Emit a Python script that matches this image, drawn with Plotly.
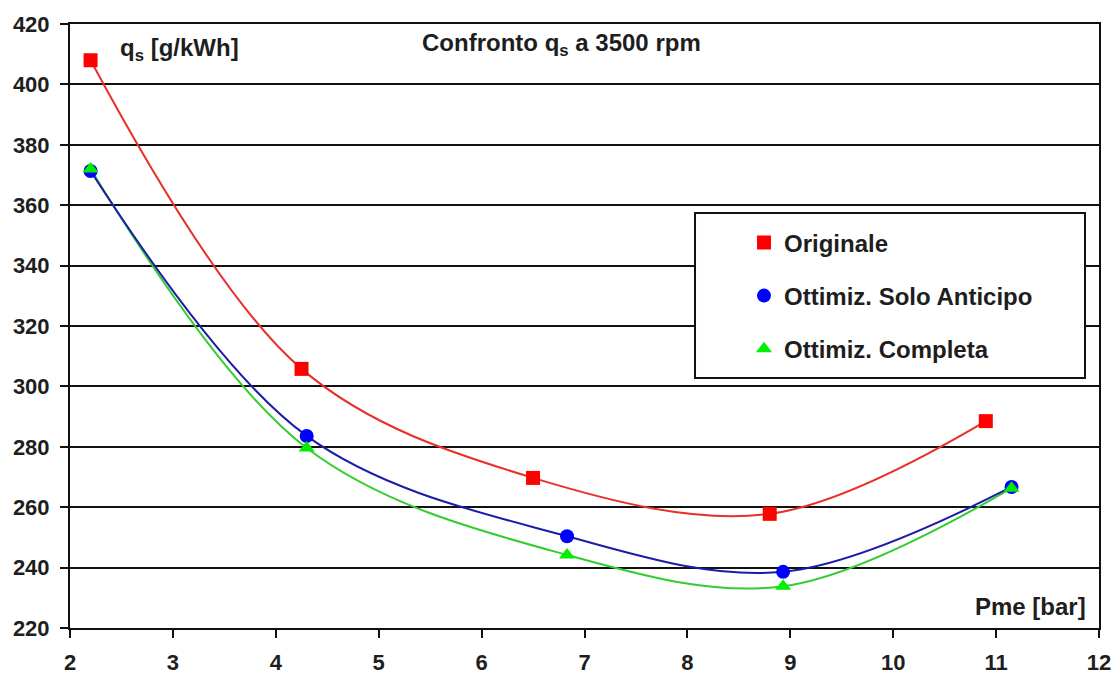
import plotly.graph_objects as go

# Specific consumption q_s [g/kWh] vs mean effective pressure Pme [bar] at 3500 rpm
pme_originale = [2.2, 4.25, 6.5, 8.8, 10.9]
qs_originale = [408, 305.8, 269.7, 257.8, 288.5]

pme_anticipo = [2.2, 4.3, 6.83, 8.93, 11.15]
qs_anticipo = [371.3, 283.6, 250.4, 238.6, 266.7]

pme_completa = [2.2, 4.3, 6.83, 8.93, 11.15]
qs_completa = [372.0, 279.6, 244.2, 233.8, 266.3]

x_ticks = [2, 3, 4, 5, 6, 7, 8, 9, 10, 11, 12]
y_ticks = [220, 240, 260, 280, 300, 320, 340, 360, 380, 400, 420]

FONT = "Liberation Sans, Arial, sans-serif"
TXT = "#1e1e1e"

series = [
    ("Originale", pme_originale, qs_originale, "#ff0000", "#e8302a", "square", 14),
    ("Ottimiz. Solo Anticipo", pme_anticipo, qs_anticipo, "#0000ff", "#1c1ca8", "circle", 14),
    ("Ottimiz. Completa", pme_completa, qs_completa, "#00ee00", "#33cc33", "triangle-up", 14),
]

fig = go.Figure()

# smoothed curves (green under blue)
for idx in (0, 2, 1):
    name, x, y, mcol, lcol, sym, size = series[idx]
    fig.add_trace(go.Scatter(
        x=x, y=y, mode="lines", showlegend=False, hoverinfo="skip",
        line=dict(color=lcol, width=2, shape="spline", smoothing=1.0),
    ))

# measured points
for name, x, y, mcol, lcol, sym, size in series:
    fig.add_trace(go.Scatter(
        x=x, y=y, mode="markers", name=name, legendgroup=name,
        marker=dict(color=mcol, symbol=sym, size=size, line=dict(width=0)),
    ))

fig.update_layout(
    width=1118, height=678,
    margin=dict(l=70, r=19, t=24, b=50, autoexpand=False),
    paper_bgcolor="white", plot_bgcolor="white",
    font=dict(family=FONT, size=24, color=TXT),
    showlegend=True,
    legend=dict(
        x=0.655, y=0.675, xanchor="left", yanchor="top",
        bgcolor="rgba(0,0,0,0)", borderwidth=0,
        font=dict(family=FONT, size=24, color=TXT, weight="bold"),
        tracegroupgap=19, itemsizing="trace",
    ),
    shapes=[dict(
        type="rect", xref="paper", yref="paper",
        x0=0.6074, x1=0.9864, y0=0.4139, y1=0.6871,
        line=dict(color="#111111", width=2), fillcolor="white", layer="above",
    )],
    annotations=[
        dict(text="<b>q<sub>s</sub> [g/kWh]</b>", xref="paper", yref="paper",
             x=0.0466, y=0.957, xanchor="left", yanchor="middle", showarrow=False,
             font=dict(family=FONT, size=24, color=TXT)),
        dict(text="<b>Confronto q<sub>s</sub> a 3500 rpm</b>", xref="paper", yref="paper",
             x=0.478, y=0.966, xanchor="center", yanchor="middle", showarrow=False,
             font=dict(family=FONT, size=24, color=TXT)),
        dict(text="<b>Pme [bar]</b>", xref="paper", yref="paper",
             x=0.989, y=0.036, xanchor="right", yanchor="middle", showarrow=False,
             font=dict(family=FONT, size=24, color=TXT)),
    ],
)

fig.update_xaxes(
    range=[2, 12], tickvals=x_ticks, ticktext=[str(v) for v in x_ticks],
    showgrid=False, zeroline=False, automargin=False,
    showline=True, linecolor="#111111", linewidth=2, mirror=True,
    ticks="outside", ticklen=8, tickwidth=2, tickcolor="#111111",
    tickfont=dict(family=FONT, size=22, color=TXT, weight="bold"),
    ticklabelstandoff=6,
)
fig.update_yaxes(
    range=[220, 420], tickvals=y_ticks, ticktext=[str(v) for v in y_ticks],
    showgrid=True, gridcolor="#111111", gridwidth=1.6, zeroline=False, automargin=False,
    showline=True, linecolor="#111111", linewidth=2, mirror=True,
    ticks="outside", ticklen=8, tickwidth=2, tickcolor="#111111",
    tickfont=dict(family=FONT, size=22, color=TXT, weight="bold"),
    ticklabelstandoff=6,
)

fig.write_html("out.html")
